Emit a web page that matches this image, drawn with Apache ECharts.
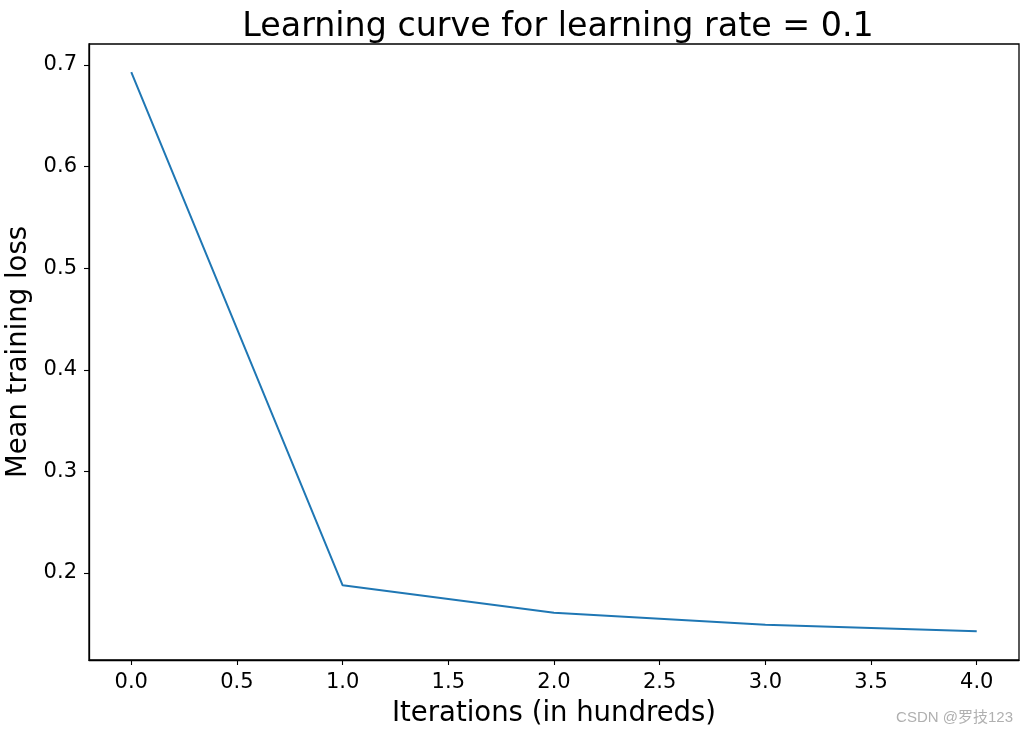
<!DOCTYPE html>
<html><head><meta charset="utf-8">
<script src="https://cdn.jsdelivr.net/npm/echarts@6/dist/echarts.min.js"></script>
<style>html,body{margin:0;padding:0;background:#fff}#c{width:1028px;height:736px}</style>
</head><body><div id="c"></div>
<script>
const iterations = [0, 1, 2, 3, 4];
const meanLoss = [0.6931, 0.1879, 0.1609, 0.1491, 0.1426];
const xTicks = [0, 0.5, 1, 1.5, 2, 2.5, 3, 3.5, 4];
const yTicks = [0.2, 0.3, 0.4, 0.5, 0.6, 0.7];
const titleText = 'Learning curve for learning rate = 0.1';
const xName = 'Iterations (in hundreds)';
const yName = 'Mean training loss';

const font = 'DejaVu Sans';
const chart = echarts.init(document.getElementById('c'), null, {renderer: 'canvas'});
chart.setOption({
  animation: false,
  backgroundColor: '#fff',
  title: {text: titleText, left: 553, textAlign: 'center', top: 6,
    textStyle: {fontFamily: font, fontSize: 33.3, fontWeight: 'normal', color: '#000'}},
  grid: {left: 89, right: 9, top: 44, bottom: 76, show: true, borderColor: '#000', borderWidth: 1.3,
    containLabel: false, outerBoundsMode: 'none'},
  xAxis: {type: 'value', min: -0.2, max: 4.2,
    name: xName, nameLocation: 'middle', nameGap: 40,
    nameTextStyle: {fontFamily: font, fontSize: 27.5, color: '#000'},
    axisLine: {show: true, onZero: false, lineStyle: {color: '#000', width: 1.3}},
    axisTick: {show: true, customValues: xTicks, length: 5, lineStyle: {color: '#000', width: 1.1}},
    axisLabel: {customValues: xTicks, margin: 12, fontFamily: font, fontSize: 21, color: '#000',
      formatter: v => v.toFixed(1)},
    splitLine: {show: false}},
  yAxis: {type: 'value', min: 0.1144, max: 0.7207,
    name: yName, nameLocation: 'middle', nameGap: 49, nameRotate: 90,
    nameTextStyle: {fontFamily: font, fontSize: 27.5, color: '#000'},
    axisLine: {show: true, onZero: false, lineStyle: {color: '#000', width: 1.3}},
    axisTick: {show: true, customValues: yTicks, length: 5, lineStyle: {color: '#000', width: 1.1}},
    axisLabel: {customValues: yTicks, margin: 12, fontFamily: font, fontSize: 21, color: '#000',
      formatter: v => v.toFixed(1)},
    splitLine: {show: false}},
  series: [{type: 'line', data: iterations.map((x, i) => [x, meanLoss[i]]),
    showSymbol: false, symbol: 'none', lineStyle: {color: '#1f77b4', width: 2}, color: '#1f77b4'}],
  graphic: [{type: 'text', right: 15, top: 710,
    style: {text: 'CSDN @罗技123', fill: '#b0b0b0', font: '15px "Liberation Sans", "Noto Sans CJK SC", sans-serif'}}]
});
</script></body></html>
